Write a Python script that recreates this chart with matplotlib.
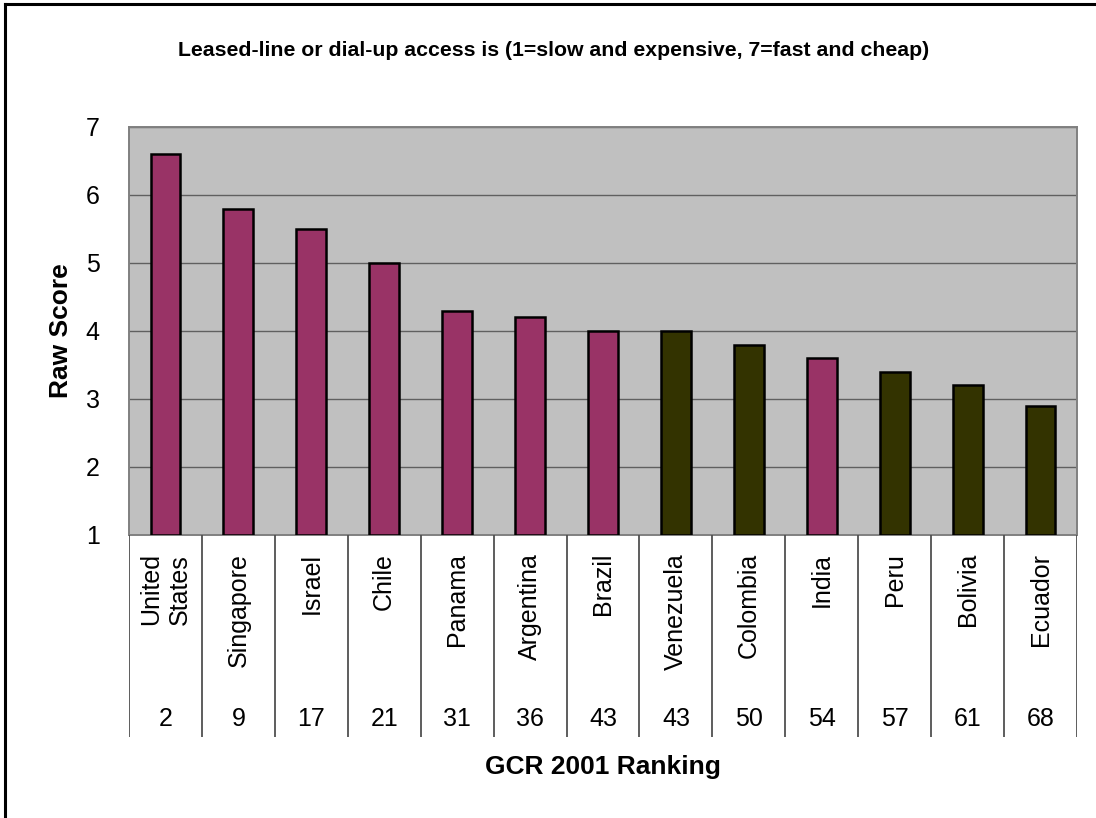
# bar chart of raw scores for leased-line / dial-up access, with GCR 2001 ranking table below
import matplotlib
matplotlib.use('Agg')
import matplotlib.pyplot as plt
from matplotlib.lines import Line2D

plt.rcParams['font.family'] = ['Liberation Sans', 'DejaVu Sans']

# data
countries = ['United\nStates', 'Singapore', 'Israel', 'Chile', 'Panama', 'Argentina', 'Brazil',
             'Venezuela', 'Colombia', 'India', 'Peru', 'Bolivia', 'Ecuador']
scores = [6.6, 5.8, 5.5, 5.0, 4.3, 4.2, 4.0, 4.0, 3.8, 3.6, 3.4, 3.2, 2.9]
rankings = [2, 9, 17, 21, 31, 36, 43, 43, 50, 54, 57, 61, 68]
# which group each country belongs to (A = magenta, B = dark olive)
groups = ['A', 'A', 'A', 'A', 'A', 'A', 'A', 'B', 'B', 'A', 'B', 'B', 'B']
group_colors = {'A': '#993366', 'B': '#333300'}

W, H = 1096, 818
fig = plt.figure(figsize=(W / 100, H / 100), dpi=100)

# main plot area
left, right, top, bottom = 129, 1077, 127, 535
ax = fig.add_axes([left / W, 1 - bottom / H, (right - left) / W, (bottom - top) / H])
ax.set_facecolor('#C0C0C0')
x = list(range(len(countries)))
colors = [group_colors[g] for g in groups]
ax.bar(x, [s - 1 for s in scores], bottom=1, width=0.41, color=colors,
       edgecolor='black', linewidth=1.8, zorder=3)
ax.set_xlim(-0.5, len(countries) - 0.5)
ax.set_ylim(1, 7)
ax.set_yticks(range(1, 8))
ax.yaxis.grid(True, color='#606060', linewidth=1.0, zorder=1)
ax.tick_params(axis='y', length=0, pad=21, labelsize=18)
ax.tick_params(axis='x', length=0, labelbottom=False)
for s in ax.spines.values():
    s.set_color('#808080')
    s.set_linewidth(1.4)
ax.set_ylabel('Raw Score', fontsize=19, fontweight='bold', labelpad=9)

# table of country names and rankings under the bars
tab_bottom = 737
tab = fig.add_axes([left / W, 1 - tab_bottom / H, (right - left) / W, (tab_bottom - bottom) / H])
tab.set_xlim(-0.5, len(countries) - 0.5)
tab.set_ylim(0, 1)
tab.axis('off')
for i in range(len(countries) + 1):
    tab.axvline(i - 0.5, color='#505050', linewidth=1.3)
for i in x:
    tab.text(i, 1 - 18 / 202, countries[i], rotation=90, ha='center', va='top',
             fontsize=18, multialignment='left')
    tab.text(i, 18 / 202, str(rankings[i]), ha='center', va='center', fontsize=18)

fig.text((left + right) / 2 / W, 1 - 767 / H, 'GCR 2001 Ranking', ha='center', va='center',
         fontsize=19, fontweight='bold')
fig.text(554 / W, 1 - 50 / H,
         'Leased-line or dial-up access is (1=slow and expensive, 7=fast and cheap)',
         ha='center', va='center', fontsize=15.3, fontweight='bold')

# outer frame (only the top and left edges fall inside the image)
fig.add_artist(Line2D([5 / W, 5 / W], [0, 1 - 4 / H], color='black', linewidth=2.2))
fig.add_artist(Line2D([5 / W, 1], [1 - 4 / H, 1 - 4 / H], color='black', linewidth=2.2))

plt.savefig('out.png', dpi=100)
